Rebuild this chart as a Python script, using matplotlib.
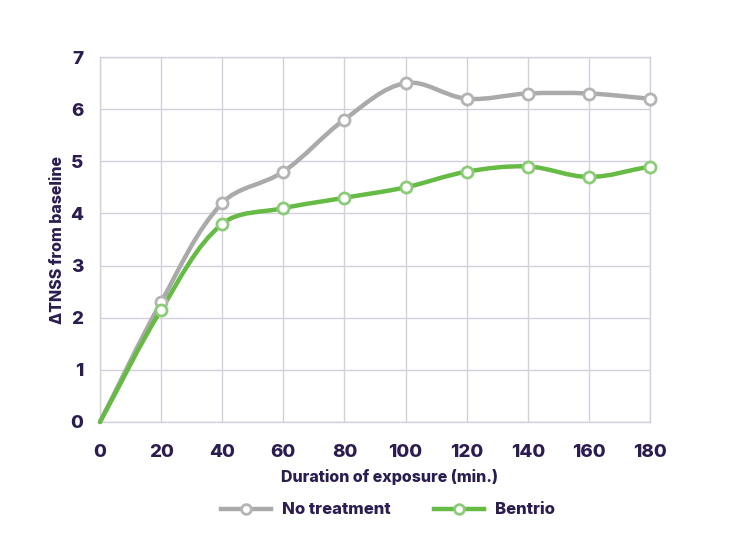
import numpy as np
import matplotlib
matplotlib.use("Agg")
import matplotlib.pyplot as plt
from matplotlib.path import Path
from matplotlib.patches import PathPatch
from matplotlib.lines import Line2D

plt.rcParams['font.family'] = ['Inter', 'DejaVu Sans']

minutes = [0, 20, 40, 60, 80, 100, 120, 140, 160, 180]
no_treatment = [0, 2.3, 4.2, 4.8, 5.8, 6.5, 6.2, 6.3, 6.3, 6.2]
bentrio = [0, 2.15, 3.8, 4.1, 4.3, 4.5, 4.8, 4.9, 4.7, 4.9]
series_names = ["No treatment", "Bentrio"]

TEXT = "#2b1d4f"
GRID = "#d3cfdd"
GRAY, GRAY_MK = "#aaaaaa", "#b4b4b4"
GREEN, GREEN_MK = "#66bb44", "#8ccc78"
WEIGHT = "heavy"


def spline_path(xs, ys, sx, sy, tension=0.35):
    # chart.js style spline: control points from neighbour distances
    p = np.column_stack([np.array(xs, float) * sx, np.array(ys, float) * sy])
    n = len(p)
    cp_prev = p.copy()
    cp_next = p.copy()
    for i in range(n):
        prev = p[max(i - 1, 0)]
        nxt = p[min(i + 1, n - 1)]
        d01 = np.hypot(*(p[i] - prev))
        d12 = np.hypot(*(nxt - p[i]))
        tot = d01 + d12
        s01 = d01 / tot if tot else 0
        s12 = d12 / tot if tot else 0
        cp_prev[i] = p[i] - tension * s01 * (nxt - prev)
        cp_next[i] = p[i] + tension * s12 * (nxt - prev)
    verts = [p[0]]
    codes = [Path.MOVETO]
    for i in range(n - 1):
        verts += [cp_next[i], cp_prev[i + 1], p[i + 1]]
        codes += [Path.CURVE4] * 3
    verts = np.array(verts) / [sx, sy]
    return Path(verts, codes)


fig = plt.figure(figsize=(7.33, 5.51), dpi=100)
ax = fig.add_axes([100 / 733, 129 / 551, 550 / 733, 365 / 551])
ax.set_xlim(0, 180)
ax.set_ylim(0, 7)
ax.set_xticks(minutes)
ax.set_yticks(range(8))
ax.grid(True, color=GRID, linewidth=1)
ax.set_axisbelow(True)
for s in ax.spines.values():
    s.set_color(GRID)
    s.set_linewidth(1)
ax.tick_params(length=0, labelsize=13.5, labelcolor=TEXT)
ax.tick_params(axis="x", pad=16)
ax.tick_params(axis="y", pad=12)
for lab in ax.get_xticklabels() + ax.get_yticklabels():
    lab.set_fontweight(WEIGHT)

sx, sy = 550 / 180, 365 / 7
for ys, col, mk in [(no_treatment, GRAY, GRAY_MK), (bentrio, GREEN, GREEN_MK)]:
    ax.add_patch(PathPatch(spline_path(minutes, ys, sx, sy), facecolor="none",
                           edgecolor=col, linewidth=3.2, capstyle="round",
                           joinstyle="round", clip_on=False, zorder=3))
    ax.plot(minutes[1:], ys[1:], linestyle="none", marker="o", markersize=8,
            markerfacecolor="white", markeredgecolor=mk, markeredgewidth=2,
            clip_on=False, zorder=4)

fig.text(390 / 733, 1 - 477 / 551, "Duration of exposure (min.)", fontsize=11.5,
         fontweight=WEIGHT, color=TEXT, ha="center", va="center")
fig.text(58 / 733, 1 - 240 / 551, "ΔTNSS from baseline", fontsize=11.5,
         fontweight=WEIGHT, color=TEXT, ha="center", va="center", rotation=90)

handles = [Line2D([], [], color=GRAY, linewidth=3.2, marker="o", markersize=7,
                  markerfacecolor="white", markeredgecolor=GRAY_MK, markeredgewidth=2),
           Line2D([], [], color=GREEN, linewidth=3.2, marker="o", markersize=7,
                  markerfacecolor="white", markeredgecolor=GREEN_MK, markeredgewidth=2)]
leg = fig.legend(handles, series_names, loc="center", bbox_to_anchor=(388 / 733, 1 - 510 / 551),
                 ncol=2, frameon=False, handlelength=3.0, handletextpad=0.65,
                 columnspacing=2.6, prop={"size": 12, "weight": WEIGHT})
for t in leg.get_texts():
    t.set_color(TEXT)

fig.savefig("out.png", dpi=100)
